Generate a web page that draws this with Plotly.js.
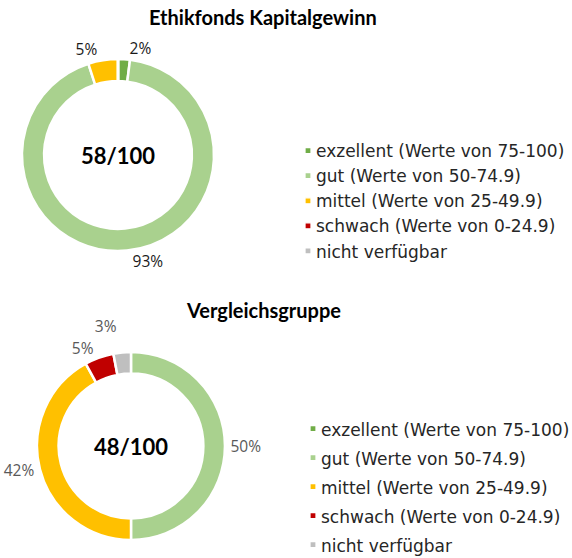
<!DOCTYPE html>
<html><head><meta charset="utf-8">
<script src="https://cdn.plot.ly/plotly-3.0.1.min.js"></script>
<style>
body{margin:0;background:#fff}
.plot{width:572px;height:279px}
path.legendpie{transform:translate(32px,0) scale(0.5);}
path.textline{display:none}
#bottom text.legendtext{font-size:17px !important}
</style>
</head><body>
<div id="top" class="plot"></div>
<div id="bottom" class="plot"></div>
<script>
const categories = ['exzellent (Werte von 75-100)', 'gut (Werte von 50-74.9)', 'mittel (Werte von 25-49.9)', 'schwach (Werte von 0-24.9)', 'nicht verfügbar'];
const fundValues = [2, 93, 5, 0, 0];
const peerValues = [0, 50, 42, 5, 3];
const fundScore = '58/100';
const peerScore = '48/100';
const fundTitle = 'Ethikfonds Kapitalgewinn';
const peerTitle = 'Vergleichsgruppe';
const colors = ['#70AD47', '#A9D18E', '#FFC000', '#C00000', '#BFBFBF'];

const TITLE_FONT = 'Lato, "Open Sans", sans-serif';
const LEGEND_FONT = '"DejaVu Sans", sans-serif';
const LABEL_FONT = '"Open Sans", sans-serif';
const W = 572, H = 279;
const pct = vals => vals.map(v => v > 0 ? v + '%' : '');

function pieTrace(values, score, domain, textColor) {
  return {
    type: 'pie',
    labels: categories,
    values: values,
    text: pct(values),
    textinfo: 'text',
    textposition: 'outside',
    sort: false,
    direction: 'clockwise',
    rotation: 0,
    hole: 0.77,
    domain: domain,
    marker: {colors: colors, line: {color: '#ffffff', width: 2.5}},
    outsidetextfont: {family: LABEL_FONT, size: 15.5, color: textColor},
    title: {text: '<b>' + score + '</b>', position: 'middle center', font: {family: TITLE_FONT, size: 22, color: '#000'}},
    hoverinfo: 'label+percent'
  };
}

function makeLayout(title, titleY, legendX, legendY, legendSize) {
  return {
    width: W, height: H,
    margin: {l: 0, r: 0, t: 0, b: 0, autoexpand: false},
    paper_bgcolor: '#ffffff',
    showlegend: true,
    legend: {
      x: legendX / W, y: (H - legendY) / H, xanchor: 'left', yanchor: 'middle',
      font: {family: LEGEND_FONT, size: legendSize, color: '#262626'},
      bgcolor: 'rgba(0,0,0,0)', traceorder: 'normal', itemclick: false
    },
    annotations: [
      {text: '<b>' + title + '</b>', xref: 'paper', yref: 'paper', x: 263 / W, y: (H - titleY) / H,
       showarrow: false, xanchor: 'center', yanchor: 'middle', font: {family: TITLE_FONT, size: 20, color: '#000'}}
    ]
  };
}

const cfg = {displayModeBar: false, staticPlot: true};

Plotly.newPlot('top',
  [pieTrace(fundValues, fundScore, {x: [22 / W, 214 / W], y: [28 / H, 220 / H]}, '#1a1a1a')],
  makeLayout(fundTitle, 17, 276, 201, 17), cfg);

Plotly.newPlot('bottom',
  [pieTrace(peerValues, peerScore, {x: [37 / W, 225 / W], y: [18 / H, 206 / H]}, '#595959')],
  makeLayout(peerTitle, 31, 281, 207.5, 20), cfg);
</script>
</body></html>
